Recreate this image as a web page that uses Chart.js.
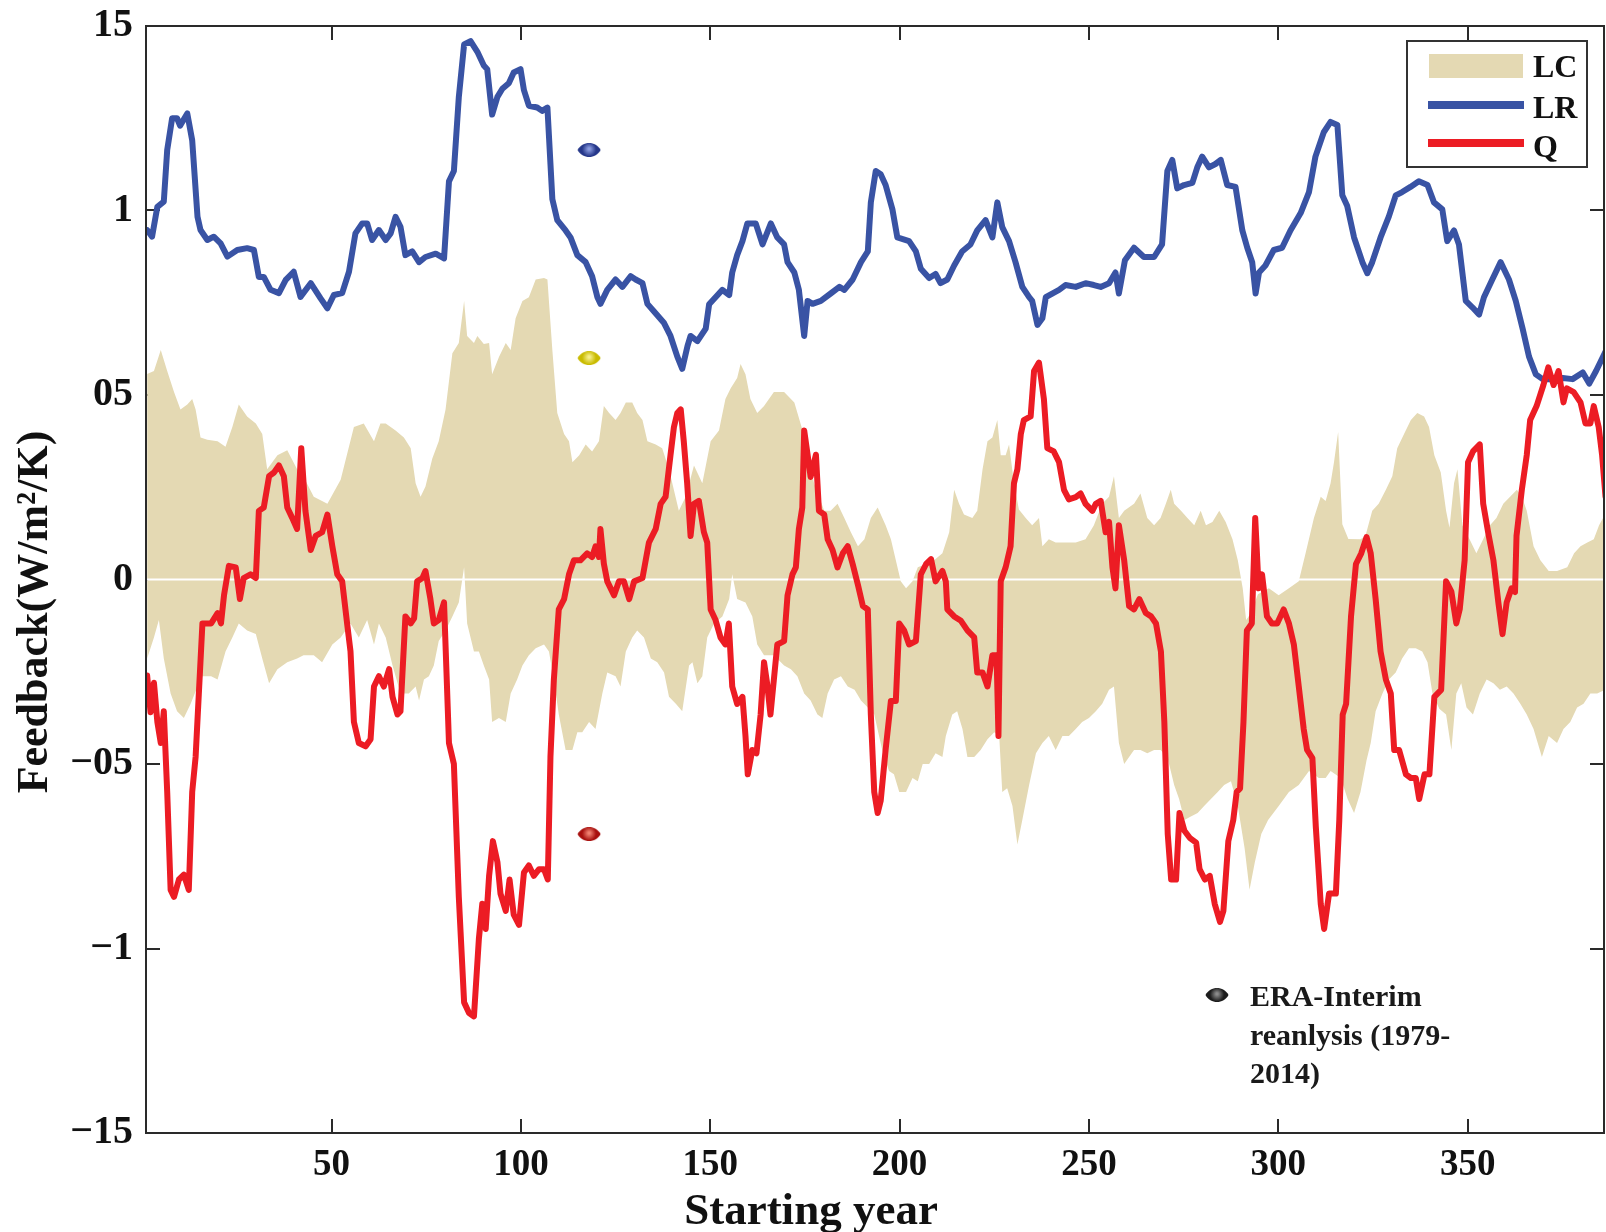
<!DOCTYPE html>
<html>
<head>
<meta charset="utf-8">
<script src="https://cdn.jsdelivr.net/npm/chart.js@4.4.1/dist/chart.umd.min.js"></script>
<style>
html, body { margin: 0; padding: 0; background: #ffffff; }
canvas { display: block; }
</style>
</head>
<body>
<canvas id="feedback" width="1606" height="1232"></canvas>
<script>
// Axis ticks
const xTickValues = [50, 100, 150, 200, 250, 300, 350];
const yTickValues = [1.5, 1, 0.5, 0, -0.5, -1, -1.5];
const yTickLabels = ['15', '1', '05', '0', '\u221205', '\u22121', '\u221215'];

// LR feedback, [starting year, W/m2/K]
const lrSeries = [
  [1.3,0.947],[2.6,0.929],[4.0,1.01],[5.7,1.024],[6.6,1.164],[7.9,1.25],[9.2,1.25],[10.0,1.23],[11.9,1.263],[13.2,1.19],
  [14.6,0.983],[15.4,0.947],[17.2,0.92],[18.9,0.929],[20.7,0.911],[22.5,0.875],[25.1,0.893],[27.7,0.898],[29.5,0.893],[30.8,0.82],
  [32.1,0.82],[33.9,0.785],[36.1,0.776],[37.9,0.812],[40.0,0.834],[41.8,0.766],[44.5,0.803],[47.1,0.762],[48.9,0.735],[50.6,0.771],
  [52.8,0.776],[54.6,0.834],[56.3,0.938],[58.1,0.965],[59.4,0.965],[60.7,0.92],[62.5,0.947],[64.3,0.92],[65.6,0.938],[66.9,0.983],
  [68.2,0.956],[69.5,0.879],[71.3,0.889],[73.1,0.86],[74.8,0.874],[77.5,0.883],[79.7,0.87],[81.0,1.079],[82.3,1.107],[83.6,1.307],
  [85.0,1.45],[86.7,1.459],[88.5,1.43],[90.2,1.393],[91.1,1.383],[92.4,1.26],[93.8,1.308],[95.1,1.33],[96.8,1.345],[98.1,1.374],
  [99.9,1.383],[100.8,1.326],[102.1,1.284],[104.3,1.279],[105.6,1.27],[107.0,1.279],[108.3,1.031],[109.6,0.974],[111.8,0.946],[113.1,0.927],
  [114.9,0.879],[117.1,0.86],[118.8,0.822],[120.2,0.765],[121.0,0.747],[122.8,0.785],[125.0,0.813],[126.8,0.793],[129.0,0.822],[130.3,0.813],
  [132.1,0.803],[133.4,0.747],[135.1,0.727],[137.8,0.695],[139.5,0.66],[141.3,0.604],[142.6,0.571],[144.0,0.633],[144.8,0.66],[146.6,0.646],
  [148.8,0.68],[149.7,0.746],[152.3,0.775],[153.2,0.785],[155.0,0.771],[155.8,0.832],[157.1,0.879],[158.5,0.917],[159.8,0.965],[162.0,0.965],
  [163.8,0.908],[166.0,0.965],[167.7,0.927],[169.5,0.908],[170.4,0.86],[172.2,0.832],[173.4,0.785],[174.8,0.66],[175.7,0.755],[177.0,0.747],
  [179.2,0.755],[181.8,0.775],[184.1,0.793],[185.4,0.785],[187.6,0.813],[189.8,0.86],[191.6,0.889],[192.4,1.022],[193.7,1.107],[195.0,1.098],
  [196.3,1.069],[198.1,1.003],[199.4,0.927],[202.5,0.917],[204.3,0.889],[205.6,0.842],[207.8,0.817],[209.5,0.828],[210.8,0.803],[212.6,0.813],
  [214.4,0.851],[216.5,0.889],[218.7,0.908],[220.5,0.946],[222.7,0.974],[224.5,0.927],[225.8,1.022],[227.1,0.955],[228.9,0.917],[230.6,0.86],
  [232.4,0.793],[234.2,0.765],[235.0,0.755],[236.4,0.69],[237.7,0.708],[238.6,0.765],[240.3,0.775],[242.1,0.785],[243.8,0.798],[246.5,0.793],
  [249.1,0.803],[251.3,0.798],[253.1,0.793],[255.3,0.803],[257.0,0.832],[257.9,0.775],[259.5,0.865],[261.9,0.899],[264.5,0.874],[267.2,0.874],
  [269.3,0.908],[270.7,1.107],[272.0,1.137],[273.3,1.06],[275.1,1.069],[277.3,1.075],[278.6,1.117],[279.9,1.146],[281.7,1.117],[283.4,1.126],
  [284.8,1.137],[286.5,1.069],[288.7,1.064],[290.5,0.946],[291.8,0.899],[293.1,0.86],[294.0,0.775],[294.9,0.832],[296.6,0.851],[298.8,0.893],
  [301.0,0.899],[303.2,0.946],[305.9,0.993],[308.1,1.05],[309.8,1.146],[312.0,1.212],[313.8,1.24],[315.6,1.232],[316.9,1.041],[318.2,1.012],
  [320.0,0.927],[322.2,0.86],[323.5,0.83],[324.8,0.86],[327.0,0.927],[329.2,0.984],[331.0,1.041],[332.7,1.05],[334.9,1.064],[337.1,1.079],
  [339.4,1.069],[341.1,1.022],[343.3,1.003],[344.6,0.917],[346.4,0.946],[347.7,0.908],[349.5,0.755],[351.3,0.737],[353.0,0.718],[354.3,0.765],
  [356.5,0.813],[358.7,0.86],[360.9,0.813],[362.7,0.755],[364.5,0.68],[366.2,0.604],[368.0,0.556],[369.8,0.543],[372.4,0.543],[375.1,0.546],
  [377.7,0.543],[380.4,0.561],[382.1,0.531],[383.9,0.565],[385.7,0.603],[386.5,0.62]
];

// Q (water vapour) feedback
const qSeries = [
  [1.3,-0.26],[2.2,-0.36],[3.1,-0.28],[4.0,-0.386],[4.9,-0.443],[5.7,-0.357],[6.6,-0.576],[7.5,-0.841],[8.4,-0.86],[9.7,-0.813],
  [11.0,-0.8],[12.3,-0.841],[13.2,-0.576],[14.1,-0.481],[15.9,-0.119],[18.2,-0.119],[19.9,-0.091],[20.8,-0.119],[21.6,-0.043],[22.9,0.037],
  [24.7,0.033],[25.8,-0.053],[26.8,0.004],[28.6,0.014],[30.0,0.004],[30.8,0.186],[32.1,0.195],[33.5,0.28],[34.8,0.29],[36.1,0.309],
  [37.4,0.28],[38.3,0.195],[39.6,0.167],[40.9,0.137],[42.0,0.356],[43.1,0.186],[44.5,0.08],[45.8,0.118],[47.5,0.128],[48.9,0.176],
  [50.2,0.09],[51.5,0.014],[52.8,-0.005],[54.1,-0.119],[55.0,-0.195],[55.9,-0.386],[57.2,-0.443],[59.0,-0.452],[60.3,-0.433],[61.2,-0.29],
  [62.5,-0.262],[63.8,-0.29],[65.2,-0.243],[66.1,-0.318],[67.4,-0.366],[68.2,-0.357],[69.5,-0.1],[70.9,-0.119],[71.8,-0.105],[72.6,-0.005],
  [74.0,0.004],[74.8,0.023],[76.1,-0.053],[77.0,-0.119],[78.3,-0.11],[79.7,-0.062],[81.0,-0.443],[82.3,-0.5],[83.6,-0.86],[85.0,-1.146],
  [86.3,-1.175],[87.6,-1.184],[88.9,-0.974],[89.8,-0.879],[90.7,-0.947],[91.6,-0.803],[92.6,-0.709],[93.8,-0.766],[94.6,-0.851],[96.0,-0.898],
  [97.0,-0.813],[98.1,-0.908],[99.5,-0.936],[100.8,-0.794],[102.1,-0.775],[103.4,-0.803],[104.8,-0.785],[106.1,-0.785],[107.1,-0.813],[107.8,-0.481],
  [108.7,-0.271],[110.0,-0.081],[111.4,-0.053],[112.7,0.014],[114.0,0.052],[115.7,0.052],[117.5,0.071],[118.8,0.061],[119.7,0.09],[120.6,0.061],
  [121.0,0.137],[121.9,0.043],[122.8,-0.005],[124.6,-0.043],[125.9,-0.005],[127.2,-0.005],[128.6,-0.053],[129.9,-0.005],[132.1,0.004],[133.8,0.1],
  [135.6,0.137],[136.9,0.205],[138.2,0.224],[139.5,0.337],[140.4,0.413],[141.3,0.451],[142.2,0.461],[143.0,0.375],[143.9,0.261],[144.8,0.118],
  [145.7,0.205],[147.0,0.213],[148.3,0.129],[149.2,0.1],[150.1,-0.081],[151.4,-0.11],[152.7,-0.157],[154.0,-0.176],[154.9,-0.119],[155.8,-0.29],
  [157.1,-0.337],[158.5,-0.318],[159.3,-0.424],[159.9,-0.528],[161.1,-0.462],[162.2,-0.471],[163.3,-0.366],[164.2,-0.224],[165.0,-0.281],[165.9,-0.366],
  [166.8,-0.271],[167.7,-0.176],[169.5,-0.167],[170.4,-0.043],[171.7,0.014],[172.6,0.033],[173.4,0.137],[174.3,0.195],[174.8,0.404],[175.7,0.338],
  [176.5,0.278],[177.9,0.338],[178.7,0.186],[180.1,0.176],[181.0,0.109],[182.3,0.08],[183.6,0.033],[185.0,0.071],[186.3,0.09],[187.6,0.042],
  [189.0,-0.015],[190.3,-0.072],[191.6,-0.081],[192.4,-0.366],[193.3,-0.576],[194.2,-0.633],[195.0,-0.6],[196.3,-0.462],[197.7,-0.329],[199.0,-0.329],
  [199.9,-0.119],[201.2,-0.138],[202.5,-0.176],[204.3,-0.167],[205.6,0.014],[207.0,0.042],[208.3,0.055],[209.5,-0.005],[211.3,0.023],[212.2,-0.005],
  [212.6,-0.081],[214.4,-0.1],[216.2,-0.112],[217.9,-0.138],[219.7,-0.157],[220.5,-0.252],[221.9,-0.252],[223.2,-0.29],[224.5,-0.205],[225.6,-0.205],
  [226.1,-0.424],[226.7,-0.005],[228.0,0.033],[229.3,0.09],[230.2,0.261],[231.1,0.299],[232.0,0.394],[232.8,0.432],[234.6,0.442],[235.5,0.565],
  [236.8,0.588],[238.1,0.489],[239.0,0.356],[240.7,0.347],[242.1,0.318],[243.4,0.243],[244.7,0.217],[246.5,0.223],[247.8,0.233],[249.1,0.205],
  [250.9,0.186],[251.8,0.205],[253.1,0.213],[254.4,0.128],[255.3,0.156],[256.2,0.033],[257.0,-0.024],[257.9,0.147],[259.3,0.052],[260.6,-0.072],
  [261.9,-0.081],[263.3,-0.053],[265.0,-0.091],[266.4,-0.1],[267.7,-0.119],[269.0,-0.195],[269.9,-0.386],[270.8,-0.69],[271.7,-0.813],[273.0,-0.813],
  [273.9,-0.633],[275.2,-0.681],[276.6,-0.7],[278.3,-0.713],[279.2,-0.785],[280.6,-0.813],[281.9,-0.803],[283.2,-0.879],[284.6,-0.928],[285.5,-0.898],
  [286.8,-0.709],[288.1,-0.652],[289.0,-0.576],[289.9,-0.566],[290.8,-0.386],[291.7,-0.138],[293.0,-0.119],[293.9,0.167],[294.8,-0.024],[295.7,0.014],
  [297.0,-0.1],[298.3,-0.119],[299.7,-0.119],[301.4,-0.081],[302.8,-0.119],[304.1,-0.176],[305.4,-0.29],[306.7,-0.405],[307.6,-0.462],[309.0,-0.484],
  [309.9,-0.67],[311.2,-0.879],[312.1,-0.947],[313.4,-0.851],[315.2,-0.851],[316.1,-0.652],[317.0,-0.366],[317.9,-0.337],[319.2,-0.1],[320.5,0.042],
  [321.9,0.071],[323.3,0.115],[324.4,0.071],[325.7,-0.053],[327.0,-0.195],[328.4,-0.271],[329.7,-0.309],[330.6,-0.462],[331.9,-0.462],[333.7,-0.528],
  [335.0,-0.538],[336.3,-0.538],[337.2,-0.595],[338.6,-0.528],[339.9,-0.528],[341.2,-0.318],[343.0,-0.299],[344.3,-0.005],[345.7,-0.033],[347.0,-0.119],
  [347.9,-0.081],[349.2,0.052],[350.1,0.318],[351.4,0.347],[353.2,0.366],[354.1,0.205],[355.4,0.128],[356.8,0.052],[358.1,-0.062],[359.2,-0.148],
  [360.3,-0.062],[361.6,-0.024],[362.5,-0.034],[362.9,0.118],[364.3,0.243],[365.6,0.337],[366.5,0.432],[368.2,0.47],[370.0,0.527],[371.3,0.575],
  [372.7,0.527],[374.0,0.565],[375.3,0.48],[376.2,0.518],[378.0,0.508],[379.8,0.48],[381.1,0.423],[382.4,0.423],[383.3,0.47],[384.6,0.413],
  [385.5,0.337],[386.4,0.224]
];

// LC (lapse-rate/cloud) spread: upper and lower edges of the shaded band
const lcUpper = [
  [1.3,0.557],[3.1,0.565],[4.9,0.622],[6.6,0.565],[8.4,0.508],[10.1,0.461],[11.9,0.474],[13.2,0.489],[14.1,0.461],[15.4,0.385],
  [17.2,0.379],[19.9,0.375],[22.0,0.36],[23.8,0.413],[25.5,0.474],[27.7,0.442],[30.0,0.423],[31.7,0.394],[33.0,0.299],[35.7,0.337],
  [38.3,0.35],[40.9,0.299],[43.0,0.27],[45.3,0.224],[48.9,0.205],[52.4,0.27],[55.9,0.413],[58.5,0.423],[61.2,0.375],[62.9,0.423],
  [64.3,0.423],[66.9,0.404],[69.1,0.385],[70.9,0.356],[72.2,0.261],[73.5,0.224],[74.8,0.252],[76.6,0.328],[78.3,0.375],[80.1,0.461],
  [81.9,0.613],[83.6,0.641],[85.0,0.755],[85.8,0.66],[87.6,0.641],[88.5,0.66],[90.2,0.638],[91.6,0.641],[92.4,0.556],[94.2,0.603],
  [96.0,0.641],[97.3,0.622],[98.6,0.708],[100.4,0.755],[102.1,0.765],[103.9,0.813],[106.1,0.817],[107.0,0.813],[108.3,0.622],[109.6,0.451],
  [111.4,0.394],[112.7,0.375],[113.6,0.318],[115.4,0.337],[117.1,0.366],[118.8,0.347],[120.6,0.375],[121.9,0.47],[123.3,0.451],[125.0,0.432],
  [126.3,0.451],[127.7,0.48],[129.4,0.48],[130.7,0.451],[132.1,0.432],[133.4,0.375],[135.6,0.366],[137.3,0.356],[139.1,0.299],[141.7,0.186],
  [143.5,0.224],[145.7,0.309],[147.9,0.261],[150.1,0.375],[152.3,0.404],[154.0,0.489],[155.4,0.518],[157.1,0.546],[158.0,0.584],[159.3,0.556],
  [160.6,0.489],[162.4,0.451],[164.2,0.47],[166.8,0.508],[169.5,0.508],[172.2,0.48],[174.5,0.4],[177.4,0.261],[180.1,0.186],[181.8,0.186],
  [183.6,0.205],[185.4,0.167],[187.1,0.129],[189.0,0.09],[190.7,0.109],[192.4,0.167],[194.2,0.195],[196.3,0.147],[197.7,0.109],[199.0,0.052],
  [200.3,-0.005],[201.7,-0.024],[203.4,-0.005],[204.8,0.033],[207.0,0.042],[209.1,0.052],[211.3,0.071],[213.1,0.128],[214.4,0.243],[215.7,0.205],
  [217.0,0.176],[219.2,0.167],[220.5,0.186],[221.9,0.299],[223.2,0.375],[224.5,0.385],[225.8,0.432],[226.7,0.337],[228.0,0.337],[228.9,0.366],
  [230.2,0.261],[231.5,0.19],[233.3,0.167],[235.0,0.147],[236.8,0.167],[237.7,0.09],[239.4,0.109],[241.2,0.1],[243.8,0.1],[246.5,0.1],
  [249.1,0.109],[251.3,0.147],[253.5,0.205],[255.3,0.224],[256.6,0.28],[257.9,0.167],[259.3,0.186],[261.9,0.205],[263.6,0.233],[265.4,0.167],
  [267.2,0.147],[268.9,0.167],[270.3,0.205],[271.6,0.243],[272.5,0.205],[274.3,0.186],[276.0,0.167],[277.8,0.147],[279.5,0.186],[280.9,0.147],
  [282.6,0.156],[284.4,0.186],[286.1,0.156],[287.9,0.109],[289.3,0.052],[290.6,-0.024],[291.5,-0.11],[292.8,-0.091],[294.6,-0.04],[297.5,-0.024],
  [300.1,-0.043],[302.8,-0.024],[305.4,-0.005],[307.2,0.071],[309.4,0.167],[311.2,0.224],[312.5,0.213],[313.8,0.261],[314.7,0.318],[315.8,0.4],
  [316.9,0.15],[318.5,0.11],[321.7,0.109],[323.0,0.118],[324.8,0.186],[326.5,0.205],[328.4,0.243],[330.1,0.28],[331.4,0.356],[333.2,0.394],
  [335.0,0.432],[336.7,0.451],[338.5,0.442],[339.8,0.413],[341.2,0.337],[342.9,0.29],[344.3,0.186],[345.2,0.14],[346.4,0.261],[347.3,0.299],
  [348.6,0.147],[350.5,0.109],[352.3,0.071],[354.1,0.109],[355.9,0.147],[357.6,0.167],[359.4,0.205],[361.2,0.224],[363.0,0.243],[364.3,0.224],
  [365.6,0.186],[367.4,0.09],[369.2,0.052],[371.4,0.023],[373.6,0.023],[376.3,0.033],[378.1,0.071],[379.8,0.09],[381.6,0.1],[383.3,0.109],
  [384.7,0.147],[386.2,0.175]
];
const lcLower = [
  [1.3,-0.214],[3.1,-0.157],[4.4,-0.11],[5.7,-0.214],[7.5,-0.309],[9.2,-0.357],[11.0,-0.375],[12.8,-0.337],[14.6,-0.29],[15.9,-0.262],
  [18.2,-0.262],[19.9,-0.271],[22.0,-0.195],[23.8,-0.157],[25.5,-0.119],[27.7,-0.138],[30.0,-0.148],[31.7,-0.214],[33.5,-0.281],[35.7,-0.243],
  [38.3,-0.224],[40.9,-0.214],[42.6,-0.205],[45.3,-0.205],[47.5,-0.224],[50.2,-0.176],[52.4,-0.157],[55.0,-0.119],[57.2,-0.157],[59.4,-0.11],
  [61.2,-0.176],[62.5,-0.119],[64.3,-0.157],[66.1,-0.233],[68.2,-0.309],[70.4,-0.309],[72.2,-0.29],[73.1,-0.328],[74.4,-0.271],[75.7,-0.262],
  [77.0,-0.233],[78.3,-0.167],[80.1,-0.138],[81.9,-0.1],[83.6,-0.062],[85.0,0.033],[85.8,-0.119],[87.6,-0.195],[88.9,-0.195],[90.2,-0.233],
  [91.6,-0.271],[92.4,-0.386],[94.2,-0.375],[96.0,-0.386],[97.3,-0.309],[99.0,-0.271],[100.4,-0.233],[102.1,-0.205],[103.9,-0.186],[106.1,-0.176],
  [107.4,-0.195],[108.7,-0.271],[110.0,-0.366],[111.8,-0.462],[113.6,-0.462],[114.9,-0.414],[116.2,-0.414],[118.0,-0.386],[119.7,-0.405],[121.5,-0.309],
  [122.8,-0.252],[125.0,-0.262],[126.3,-0.29],[127.7,-0.195],[129.4,-0.157],[130.7,-0.138],[132.5,-0.157],[134.3,-0.214],[136.0,-0.224],[137.8,-0.252],
  [139.1,-0.318],[140.9,-0.337],[142.6,-0.357],[144.4,-0.233],[145.3,-0.224],[146.6,-0.281],[147.9,-0.262],[149.2,-0.157],[151.0,-0.119],[153.2,-0.1],
  [155.0,-0.053],[155.8,0.014],[157.1,-0.053],[159.3,-0.062],[161.1,-0.1],[162.4,-0.176],[164.2,-0.205],[166.8,-0.205],[169.5,-0.233],[171.3,-0.243],
  [173.0,-0.262],[174.8,-0.309],[176.5,-0.328],[178.3,-0.366],[179.6,-0.375],[181.0,-0.309],[182.7,-0.271],[184.5,-0.262],[186.3,-0.29],[188.1,-0.299],
  [189.8,-0.328],[191.6,-0.347],[193.3,-0.366],[195.4,-0.462],[197.2,-0.519],[198.5,-0.528],[199.9,-0.576],[201.7,-0.576],[203.4,-0.538],[204.8,-0.547],
  [206.1,-0.5],[207.8,-0.5],[209.5,-0.471],[211.3,-0.481],[212.2,-0.424],[213.9,-0.366],[215.2,-0.357],[216.6,-0.405],[217.9,-0.481],[219.7,-0.481],
  [221.4,-0.462],[223.2,-0.433],[225.0,-0.414],[226.3,-0.424],[227.1,-0.576],[228.4,-0.566],[229.8,-0.614],[231.1,-0.718],[232.4,-0.652],[234.2,-0.557],
  [236.0,-0.471],[237.7,-0.443],[239.4,-0.424],[241.2,-0.462],[243.0,-0.424],[244.7,-0.424],[246.5,-0.405],[248.2,-0.386],[250.0,-0.375],[251.8,-0.357],
  [253.5,-0.337],[255.3,-0.299],[256.6,-0.29],[257.9,-0.443],[259.3,-0.5],[261.9,-0.462],[263.6,-0.462],[265.4,-0.471],[267.2,-0.462],[268.9,-0.462],
  [270.7,-0.481],[272.5,-0.557],[273.8,-0.595],[275.2,-0.652],[276.9,-0.642],[278.7,-0.633],[280.4,-0.614],[282.2,-0.595],[284.0,-0.576],[285.7,-0.557],
  [287.5,-0.547],[289.3,-0.614],[291.1,-0.728],[292.4,-0.841],[293.8,-0.766],[295.5,-0.69],[297.3,-0.652],[300.1,-0.614],[302.8,-0.576],[305.4,-0.557],
  [308.1,-0.519],[310.7,-0.538],[312.5,-0.538],[313.8,-0.519],[316.5,-0.538],[318.3,-0.595],[320.0,-0.633],[321.7,-0.576],[323.3,-0.49],[324.4,-0.443],
  [325.7,-0.357],[327.5,-0.309],[329.2,-0.271],[331.0,-0.252],[332.7,-0.214],[334.5,-0.186],[336.3,-0.186],[338.0,-0.195],[339.4,-0.224],[340.7,-0.309],
  [342.5,-0.35],[344.3,-0.366],[345.7,-0.462],[347.0,-0.309],[348.3,-0.281],[349.7,-0.347],[351.4,-0.366],[353.2,-0.309],[355.0,-0.271],[356.8,-0.281],
  [358.5,-0.299],[360.3,-0.29],[362.1,-0.309],[363.9,-0.337],[365.6,-0.366],[367.4,-0.405],[369.6,-0.481],[371.4,-0.424],[373.6,-0.443],[375.3,-0.405],
  [377.1,-0.386],[378.9,-0.347],[380.6,-0.337],[382.4,-0.309],[384.2,-0.309],[386.2,-0.299]
];

// ERA-Interim reanalysis (1979-2014) values: LR, LC, Q
const eraYear = 118;
const eraValues = [1.164, 0.6, -0.69];

const blue = '#3953A4';
const red = '#EC1C24';
const beige = '#E4D9B3';
const axisColor = '#2a2a2a';
const serif = '"Liberation Serif", "Times New Roman", serif';

const toPoints = s => s.map(([x, y]) => ({ x, y }));

// small shaded lens-shaped marker
function lensMarker(dark, light) {
  const w = 24, h = 14;
  const c = document.createElement('canvas');
  c.width = w; c.height = h;
  const g = c.getContext('2d');
  g.beginPath();
  g.moveTo(0.5, h / 2);
  g.bezierCurveTo(w * 0.22, -h / 6, w * 0.78, -h / 6, w - 0.5, h / 2);
  g.bezierCurveTo(w * 0.78, h + h / 6, w * 0.22, h + h / 6, 0.5, h / 2);
  g.closePath();
  const grad = g.createRadialGradient(w * 0.5, h * 0.42, 1, w * 0.5, h * 0.5, w * 0.5);
  grad.addColorStop(0, light);
  grad.addColorStop(0.55, dark);
  grad.addColorStop(1, dark);
  g.fillStyle = grad;
  g.fill();
  return c;
}
const eraMarkers = [
  lensMarker('#25378a', '#8a9be0'),
  lensMarker('#c9bb00', '#f6ef8a'),
  lensMarker('#a8100e', '#f08070')
];
const eraKeyMarker = lensMarker('#1c1c1c', '#8a8a8a');

const decor = {
  id: 'decor',
  beforeDatasetsDraw(chart) {
    const { ctx, chartArea: a, scales: { x, y } } = chart;
    const len = 14;
    ctx.save();
    ctx.strokeStyle = axisColor;
    ctx.lineWidth = 2;
    ctx.beginPath();
    xTickValues.forEach(v => {
      const px = Math.round(x.getPixelForValue(v));
      ctx.moveTo(px, a.bottom); ctx.lineTo(px, a.bottom - len);
      ctx.moveTo(px, a.top); ctx.lineTo(px, a.top + len);
    });
    yTickValues.forEach(v => {
      const py = Math.round(y.getPixelForValue(v));
      ctx.moveTo(a.left, py); ctx.lineTo(a.left + len, py);
      ctx.moveTo(a.right, py); ctx.lineTo(a.right - len, py);
    });
    ctx.stroke();
    ctx.restore();
  },
  afterDatasetsDraw(chart) {
    const { ctx, chartArea: a } = chart;
    ctx.save();
    // axes box
    ctx.strokeStyle = axisColor;
    ctx.lineWidth = 2;
    ctx.strokeRect(a.left, a.top, a.right - a.left, a.bottom - a.top);

    // legend
    const lx = 1407, ly = 41, lw = 180, lh = 126;
    ctx.fillStyle = '#ffffff';
    ctx.fillRect(lx, ly, lw, lh);
    ctx.lineWidth = 2;
    ctx.strokeStyle = '#333333';
    ctx.strokeRect(lx, ly, lw, lh);
    const ds = chart.data.datasets;
    ctx.fillStyle = ds[0].backgroundColor;
    ctx.fillRect(1429, 54, 94, 24);
    ctx.lineCap = 'butt';
    ctx.lineWidth = 8;
    ctx.strokeStyle = ds[3].borderColor;
    ctx.beginPath(); ctx.moveTo(1428, 105); ctx.lineTo(1524, 105); ctx.stroke();
    ctx.strokeStyle = ds[4].borderColor;
    ctx.beginPath(); ctx.moveTo(1428, 143); ctx.lineTo(1524, 143); ctx.stroke();
    ctx.fillStyle = '#111111';
    ctx.font = 'bold 32px ' + serif;
    ctx.textAlign = 'left';
    ctx.textBaseline = 'alphabetic';
    ctx.fillText(ds[0].label, 1533, 77);
    ctx.fillText(ds[3].label, 1533, 118);
    ctx.fillText(ds[4].label, 1533, 157);

    // reanalysis key
    ctx.drawImage(eraKeyMarker, 1217 - eraKeyMarker.width / 2, 995 - eraKeyMarker.height / 2);
    ctx.font = 'bold 30px ' + serif;
    ctx.fillStyle = '#1a1a1a';
    ctx.fillText('ERA-Interim', 1250, 1006);
    ctx.fillText('reanlysis (1979-', 1250, 1045);
    ctx.fillText('2014)', 1250, 1083);
    ctx.restore();
  },
  afterDraw(chart) {
    const { ctx } = chart;
    ctx.save();
    ctx.fillStyle = '#111111';
    ctx.textAlign = 'center';
    ctx.textBaseline = 'alphabetic';
    ctx.font = 'bold 45px ' + serif;
    ctx.fillText('Starting year', 811, 1224);
    ctx.translate(47, 612);
    ctx.rotate(-Math.PI / 2);
    ctx.font = 'bold 44px ' + serif;
    ctx.fillText('Feedback(W/m\u00B2/K)', 0, 0);
    ctx.restore();
  }
};

const lineCommon = {
  pointRadius: 0,
  tension: 0,
  borderJoinStyle: 'round',
  borderCapStyle: 'round',
  clip: 0,
  fill: false
};

new Chart(document.getElementById('feedback'), {
  type: 'line',
  data: {
    datasets: [
      { label: 'LC', data: toPoints(lcUpper), borderWidth: 0, borderColor: 'rgba(0,0,0,0)',
        backgroundColor: beige, fill: '+1', pointRadius: 0, tension: 0, clip: 0, order: 6 },
      { label: 'LC lower', data: toPoints(lcLower), borderWidth: 0, borderColor: 'rgba(0,0,0,0)',
        backgroundColor: beige, fill: false, pointRadius: 0, tension: 0, clip: 0, order: 5 },
      { label: 'zero', data: [{ x: 1, y: 0 }, { x: 386, y: 0 }], borderColor: '#ffffff', borderWidth: 1.8,
        ...lineCommon, borderCapStyle: 'butt', order: 4 },
      { label: 'LR', data: toPoints(lrSeries), borderColor: blue, borderWidth: 6, ...lineCommon, order: 3 },
      { label: 'Q', data: toPoints(qSeries), borderColor: red, borderWidth: 6, ...lineCommon, order: 2 },
      { label: 'ERA-Interim', data: eraValues.map(v => ({ x: eraYear, y: v })), showLine: false,
        pointRadius: 7, pointStyle: eraMarkers, pointHoverRadius: 7, clip: 0, order: 1 }
    ]
  },
  options: {
    responsive: false,
    animation: false,
    devicePixelRatio: 1,
    layout: { autoPadding: false, padding: { left: 0, top: 26, right: 2, bottom: 0 } },
    plugins: { legend: { display: false }, tooltip: { enabled: false } },
    scales: {
      x: {
        type: 'linear', min: 1, max: 386,
        grid: { display: false }, border: { display: false },
        afterBuildTicks: s => { s.ticks = xTickValues.map(v => ({ value: v })); },
        afterFit: s => { s.height = 99; s.paddingLeft = 0; s.paddingRight = 0; },
        ticks: { color: '#111111', padding: 2, maxRotation: 0,
          font: { family: serif, weight: 'bold', size: 37 } }
      },
      y: {
        type: 'linear', min: -1.5, max: 1.5,
        grid: { display: false }, border: { display: false },
        afterBuildTicks: s => { s.ticks = yTickValues.map(v => ({ value: v })); },
        afterFit: s => { s.width = 146; s.paddingTop = 0; s.paddingBottom = 0; },
        ticks: { color: '#111111', padding: 5,
          callback: v => yTickLabels[yTickValues.indexOf(v)],
          font: { family: serif, weight: 'bold', size: 40 } }
      }
    }
  },
  plugins: [decor]
});
</script>
</body>
</html>
